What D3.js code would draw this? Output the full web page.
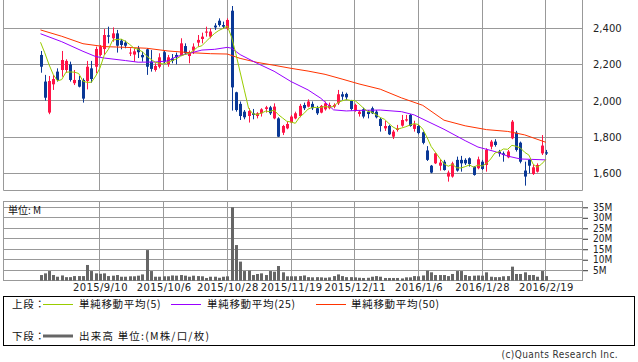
<!DOCTYPE html>
<html>
<head>
<meta charset="utf-8">
<script src="https://d3js.org/d3.v7.min.js"></script>
<style>
body { margin: 0; background: #fff; }
svg { display: block; font-family: "DejaVu Sans", sans-serif; }
.jp { font-family: "Noto Sans CJK JP", sans-serif; }
</style>
</head>
<body>
<script>
// daily bars (yen)
let opens = [2253,2106,1935,2091,2161,2170,2170,2201,2097,2115,2115,2109,2179,2188,2253,2286,2361,2345,2372,2332,
  2321,2262,2255,2290,2253,2284,2216,2170,2188,2268,2203,2234,2253,2253,2302,2247,2277,2321,2341,2376,
  2354,2415,2442,2418,2400,2497,2047,1983,1940,1916,1931,1916,1931,1955,1964,1903,1903,1824,1848,1880,
  1903,1916,1977,1968,1983,1959,1935,1953,1959,1968,1986,2036,2038,1999,1946,1927,1953,1940,1959,1940,
  1900,1848,1861,1802,1839,1863,1891,1922,1845,1861,1826,1726,1642,1655,1642,1664,1582,1582,1674,1674,
  1674,1683,1637,1628,1664,1646,1747,1775,1720,1710,1688,1793,1824,1769,1615,1674,1596,1609,1710,1716]
let highs = [2275,2143,2137,2143,2179,2275,2229,2216,2170,2137,2124,2220,2220,2299,2308,2396,2409,2405,2391,2341,
  2332,2290,2290,2303,2271,2290,2280,2207,2262,2275,2253,2258,2266,2345,2317,2277,2317,2363,2376,2409,
  2400,2428,2455,2437,2455,2523,2050,1996,1949,1959,1955,1937,1959,1972,1972,1986,1909,1867,1885,1922,
  1940,1983,1990,2008,1996,1972,1977,1996,1990,1986,2060,2050,2045,2005,1984,1949,1962,1949,1968,1949,
  1907,1889,1867,1839,1867,1922,1922,1927,1890,1867,1830,1750,1646,1714,1677,1674,1615,1664,1692,1696,
  1683,1688,1640,1692,1674,1738,1784,1788,1729,1720,1729,1894,1834,1775,1664,1677,1646,1655,1811,1729]
let lows = [2155,2001,1926,2060,2106,2133,2155,2106,2087,2074,1990,2063,2100,2152,2244,2253,2317,2326,2266,2284,
  2290,2247,2216,2236,2216,2143,2161,2161,2179,2207,2188,2207,2201,2247,2253,2207,2258,2299,2317,2354,
  2345,2391,2409,2400,2391,1946,1940,1894,1898,1880,1898,1903,1913,1935,1922,1898,1800,1811,1843,1876,
  1898,1909,1949,1964,1949,1922,1931,1946,1953,1959,1977,2005,2005,1946,1940,1913,1903,1903,1927,1903,
  1830,1834,1811,1789,1830,1857,1885,1857,1830,1815,1760,1668,1600,1651,1615,1615,1554,1576,1609,1609,
  1646,1637,1587,1622,1618,1609,1732,1747,1692,1664,1683,1788,1720,1655,1532,1600,1591,1604,1701,1701]
let closes = [2188,2017,2109,2120,2115,2225,2220,2115,2115,2078,2012,2188,2120,2286,2299,2363,2354,2372,2304,2308,
  2304,2266,2273,2268,2240,2188,2176,2192,2240,2216,2240,2220,2240,2317,2262,2268,2299,2336,2354,2382,
  2382,2405,2418,2409,2446,2074,1949,1916,1909,1944,1922,1931,1953,1964,1931,1968,1802,1861,1872,1913,
  1931,1972,1959,1996,1959,1931,1972,1986,1977,1977,2036,2023,2019,1955,1977,1940,1913,1927,1931,1909,
  1861,1861,1815,1830,1848,1894,1898,1861,1870,1822,1768,1674,1604,1710,1659,1618,1604,1655,1615,1655,
  1655,1651,1591,1677,1624,1729,1775,1756,1710,1701,1720,1885,1729,1664,1582,1642,1633,1646,1753,1709]

// volume, millions
let volumes = [2.7,3.5,4.6,2.7,1.9,2.5,1.7,1.7,2.2,2.2,2.2,7.5,4.6,3.5,3.3,3.5,2.2,2.4,2.7,1.9,
  1.9,2.1,2.1,2.4,3.0,14.6,4.6,1.9,1.9,2.1,2.1,2.5,2.4,2.7,2.4,1.9,2.4,2.2,2.1,1.3,
  1.9,1.9,1.4,1.9,2.1,35.0,17.0,9.1,4.6,4.8,2.7,3.2,3.5,2.7,4.6,4.3,7.0,4.0,2.1,2.1,
  2.1,2.2,2.5,1.7,1.6,1.7,1.6,1.4,1.6,2.2,3.0,2.2,1.7,1.7,1.6,1.4,1.3,1.4,1.9,2.2,
  1.9,1.3,1.3,1.3,1.3,1.1,1.6,1.6,2.2,2.1,2.5,4.8,4.0,2.7,2.7,2.7,2.2,3.2,4.6,4.6,
  2.7,2.2,2.4,2.5,2.4,4.0,1.9,1.7,1.7,2.1,2.2,6.7,3.2,3.2,4.0,2.7,2.7,1.9,4.6,2.2]

// moving averages where the window reaches before the first bar
let ma5Start = [2323,2265,2200,2145]
let ma25Pts = [[0,2370],[5,2326],[10,2273],[13,2244],[15,2236],[20,2222],[23,2213],[27,2214],[30,2220],[32,2244],
  [35,2262],[38,2280],[41,2284],[44,2295],[45,2290],[47,2255],[51,2207],[55,2163],[59,2106],[63,2060],
  [66,2014],[69,1950],[72,1944],[75,1947],[80,1949],[85,1940],[88,1922],[91,1888],[95,1843],[100,1780],
  [103,1745],[107,1720],[110,1695],[113,1679],[119,1674]]
let ma50Pts = [[0,2391],[5,2356],[10,2315],[15,2299],[20,2295],[25,2290],[30,2275],[35,2266],[40,2260],[44,2258],
  [47,2234],[51,2212],[55,2196],[59,2179],[63,2164],[67,2146],[71,2120],[75,2093],[80,2064],[85,2016],
  [90,1975],[95,1893],[100,1862],[105,1841],[110,1831],[114,1812],[119,1771]]

let priceTicks = [1600,1800,2000,2200,2400]
let volTicks = [5,10,15,20,25,30,35]
let dateTickIdx = [14,29,44,59,74,89,104,119]
let dateLabels = ['2015/9/10','2015/10/6','2015/10/28','2015/11/19','2015/12/11','2016/1/6','2016/1/28','2016/2/19']

let upColor = '#ff1446', downColor = '#0a3896'
let left = 3, right = 583

let svg = d3.select('body').append('svg').attr('width', 638).attr('height', 362)

let x = d3.scaleLinear().domain([0, 119]).range([40.5, 545.9])
let y = d3.scaleLinear().domain([1600, 2400]).range([173.3, 28.3])
let yv = d3.scaleLinear().domain([0, 35]).range([280.7, 207.3])

let crisp = v => Math.floor(v) + 0.5

// grid, upper panel
let grid = svg.append('g').attr('stroke', '#999').attr('stroke-width', 1)
grid.selectAll('.hp').data(priceTicks).enter().append('line')
  .attr('x1', left).attr('x2', right)
  .attr('y1', d => crisp(y(d))).attr('y2', d => crisp(y(d)))
grid.selectAll('.vp').data(dateTickIdx).enter().append('line')
  .attr('x1', d => crisp(x(d))).attr('x2', d => crisp(x(d)))
  .attr('y1', 0).attr('y2', 190.5)
grid.append('path').attr('fill', 'none')
  .attr('d', `M${left + 0.5},0V190.5H${right - 0.5}V0`)

// grid, volume panel
grid.selectAll('.hv').data(volTicks).enter().append('line')
  .attr('x1', left).attr('x2', right)
  .attr('y1', d => crisp(yv(d))).attr('y2', d => crisp(yv(d)))
grid.selectAll('.vv').data(dateTickIdx).enter().append('line')
  .attr('x1', d => crisp(x(d))).attr('x2', d => crisp(x(d)))
  .attr('y1', 201.5).attr('y2', 280.5)
grid.append('rect').attr('fill', 'none')
  .attr('x', left + 0.5).attr('y', 201.5).attr('width', right - left - 1).attr('height', 79)

// candles
let bars = d3.range(closes.length)
let cg = svg.append('g')
cg.selectAll('.wick').data(bars).enter().append('line')
  .attr('x1', i => Math.round(x(i)) + 0.5).attr('x2', i => Math.round(x(i)) + 0.5)
  .attr('y1', i => y(highs[i])).attr('y2', i => y(lows[i]))
  .attr('stroke', i => closes[i] >= opens[i] ? upColor : downColor)
cg.selectAll('.body').data(bars).enter().append('rect')
  .attr('x', i => Math.round(x(i)) - 1).attr('width', 3)
  .attr('y', i => y(Math.max(opens[i], closes[i])))
  .attr('height', i => Math.max(1, Math.abs(y(opens[i]) - y(closes[i]))))
  .attr('fill', i => closes[i] >= opens[i] ? upColor : downColor)

// moving averages
let ma5 = bars.map(i => i < 4 ? ma5Start[i] : d3.mean(closes.slice(i - 4, i + 1)))
let line = d3.line().x(d => x(d[0])).y(d => y(d[1]))
svg.append('path').datum(ma50Pts).attr('d', line)
  .attr('fill', 'none').attr('stroke', '#ff3300').attr('stroke-width', 1)
svg.append('path').datum(ma25Pts).attr('d', line)
  .attr('fill', 'none').attr('stroke', '#9900ff').attr('stroke-width', 1)
svg.append('path').datum(ma5.map((v, i) => [i, v])).attr('d', line)
  .attr('fill', 'none').attr('stroke', '#99cc00').attr('stroke-width', 1)

// volume
svg.append('g').selectAll('rect').data(bars).enter().append('rect')
  .attr('x', i => Math.round(x(i)) - 1).attr('width', 3)
  .attr('y', i => yv(volumes[i])).attr('height', i => yv(0) - yv(volumes[i]))
  .attr('fill', '#666')

svg.append('text').attr('class', 'jp').attr('x', 8).attr('y', 214)
  .attr('font-size', 10).attr('fill', '#111').text('単位: M')

// axes
let pa = svg.append('g').attr('transform', `translate(${right},0)`)
  .call(d3.axisRight(y).tickValues(priceTicks).tickSize(0).tickPadding(10).tickFormat(d3.format(',')))
pa.select('.domain').remove()
pa.selectAll('text').attr('font-size', 10).attr('font-family', 'DejaVu Sans').attr('fill', '#222')

let va = svg.append('g').attr('transform', `translate(${right},0)`)
  .call(d3.axisRight(yv).tickValues(volTicks).tickSize(5).tickPadding(5).tickFormat(d => d + 'M'))
va.select('.domain').remove()
va.selectAll('line').attr('stroke', '#333')
va.selectAll('text').attr('font-size', 10).attr('font-family', 'DejaVu Sans Condensed').attr('fill', '#222')

let da = svg.append('g').attr('transform', 'translate(0,281)')
  .call(d3.axisBottom(x).tickValues(dateTickIdx).tickSize(0).tickPadding(3)
    .tickFormat((d, i) => dateLabels[i]))
da.select('.domain').remove()
da.selectAll('text').attr('font-size', 10).attr('font-family', 'DejaVu Sans')
  .attr('letter-spacing', 0.4).attr('fill', '#222')

// legend
svg.append('rect').attr('x', 3.5).attr('y', 296.5).attr('width', 631).attr('height', 49)
  .attr('fill', 'none').attr('stroke', '#000')

let legendItems = [
  {label: '単純移動平均(5)', color: '#99cc00', x1: 43, tx: 79},
  {label: '単純移動平均(25)', color: '#9900ff', x1: 171, tx: 207},
  {label: '単純移動平均(50)', color: '#ff3300', x1: 316, tx: 351}
]
let lg = svg.append('g').attr('class', 'jp').attr('font-size', 10.5).attr('fill', '#111')
  .attr('letter-spacing', 0.7)
lg.append('text').attr('x', 12).attr('y', 308).text('上段：')
lg.selectAll('.ll').data(legendItems).enter().append('line')
  .attr('x1', d => d.x1).attr('x2', d => d.x1 + 30).attr('y1', 304.5).attr('y2', 304.5)
  .attr('stroke', d => d.color)
lg.selectAll('.lt').data(legendItems).enter().append('text')
  .attr('x', d => d.tx).attr('y', 308).text(d => d.label)
lg.append('text').attr('x', 12).attr('y', 340).text('下段：')
lg.append('line').attr('x1', 43).attr('x2', 73).attr('y1', 336).attr('y2', 336)
  .attr('stroke', '#666').attr('stroke-width', 3)
lg.append('text').attr('x', 79).attr('y', 340).attr('letter-spacing', 1.2).text('出来高 単位:(M株/口/枚)')

svg.append('text').attr('x', 618).attr('y', 358).attr('text-anchor', 'end')
  .attr('font-size', 10).attr('font-family', 'DejaVu Sans Condensed').attr('fill', '#333')
  .attr('letter-spacing', 0.4)
  .text('(c)Quants Research Inc.')
</script>
</body>
</html>
